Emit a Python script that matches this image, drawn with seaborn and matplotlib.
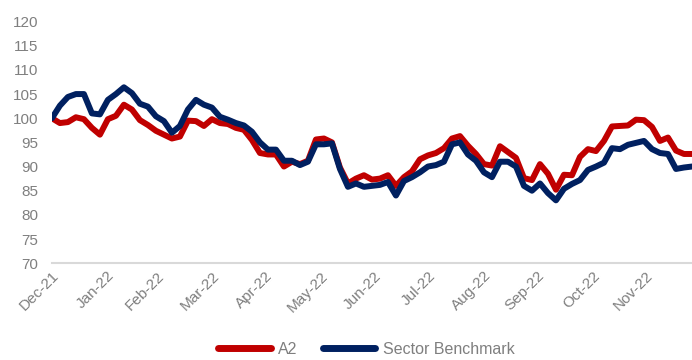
import pandas as pd
import matplotlib.pyplot as plt
import matplotlib.dates as mdates
import seaborn as sns

# Rebased performance (every ~4.5 days)
start_date = "2021-12-31"
end_date = "2022-12-26"

a2 = [
    100.0, 99.0, 99.2, 100.2, 99.8, 98.0, 96.6, 99.8, 100.5, 102.8,
    101.8, 99.6, 98.6, 97.4, 96.6, 95.8, 96.2, 99.5, 99.4, 98.4,
    99.8, 99.0, 98.8, 98.0, 97.6, 95.5, 92.8, 92.5, 92.5, 90.0,
    91.0, 90.5, 91.2, 95.6, 95.8, 95.0, 89.8, 86.5, 87.5, 88.2,
    87.3, 87.5, 88.2, 86.0, 87.8, 89.0, 91.5, 92.3, 92.8, 93.8,
    95.8, 96.3, 94.3, 92.6, 90.5, 90.2, 94.2, 93.0, 91.8, 87.6,
    87.2, 90.5, 88.5, 85.2, 88.3, 88.2, 92.0, 93.6, 93.2, 95.3,
    98.3, 98.4, 98.5, 99.7, 99.6, 98.2, 95.3, 96.0, 93.3, 92.6,
    92.6,
]
benchmark = [
    100.0, 102.6, 104.4, 105.0, 105.0, 101.0, 100.8, 103.8, 105.0, 106.4,
    105.2, 103.0, 102.4, 100.4, 99.4, 97.0, 98.4, 101.8, 103.8, 102.8,
    102.2, 100.3, 99.7, 99.0, 98.5, 97.2, 95.0, 93.5, 93.5, 91.2,
    91.2, 90.3, 91.0, 94.6, 94.6, 94.8, 89.5, 85.8, 86.5, 85.8,
    86.0, 86.2, 86.8, 84.0, 87.0, 87.8, 88.8, 90.0, 90.3, 91.0,
    94.6, 95.0, 92.5, 91.2, 88.8, 87.8, 91.0, 91.0, 90.0, 86.0,
    85.0, 86.5, 84.5, 83.0, 85.4, 86.4, 87.2, 89.3, 90.0, 90.8,
    93.8, 93.6, 94.5, 94.9, 95.3, 93.6, 92.8, 92.6, 89.5, 89.8,
    90.0,
]
series_names = ["A2", "Sector Benchmark"]
colors = {"A2": "#C00000", "Sector Benchmark": "#002060"}

dates = pd.date_range(start_date, end_date, periods=len(a2))
df = pd.DataFrame({"date": dates, "A2": a2, "Sector Benchmark": benchmark})
long_df = df.melt(id_vars="date", var_name="series", value_name="value")

sns.set_style("white")
plt.rcParams["font.family"] = ["Liberation Sans", "DejaVu Sans"]

fig = plt.figure(figsize=(6.92, 3.6), dpi=100)
ax = fig.add_axes([0.075, 0.269, 0.925, 0.671])

sns.lineplot(data=long_df, x="date", y="value", hue="series",
             hue_order=series_names, palette=colors, linewidth=4.3,
             ax=ax, legend=False)

ax.set_ylim(70, 120)
ax.set_yticks(range(70, 121, 5))
ax.set_xlim(dates[0], dates[-1])
month_ticks = pd.date_range("2021-12-31", "2022-11-30", freq="ME")
ax.set_xticks(month_ticks)
ax.xaxis.set_major_formatter(mdates.DateFormatter("%b-%y"))

grey = "#7f7f7f"
ax.tick_params(axis="y", colors=grey, labelsize=11, length=0, pad=10)
ax.tick_params(axis="x", colors=grey, labelsize=11, length=0, pad=4)
for lbl in ax.get_xticklabels():
    lbl.set_rotation(45)
    lbl.set_ha("right")
    lbl.set_rotation_mode("anchor")

ax.set_xlabel("")
ax.set_ylabel("")
for side in ["left", "right", "top"]:
    ax.spines[side].set_visible(False)
ax.spines["bottom"].set_color("#d9d9d9")
ax.spines["bottom"].set_linewidth(1.5)

handles = [plt.Line2D([], [], color=colors[n], linewidth=5, solid_capstyle="round")
           for n in series_names]
fig.legend(handles, series_names, loc="center", bbox_to_anchor=(0.529, 0.03),
           ncol=2, frameon=False, fontsize=11.5, handlelength=3.3,
           handletextpad=0.45, columnspacing=1.6, labelcolor=grey)

fig.savefig("out.png", dpi=100)
